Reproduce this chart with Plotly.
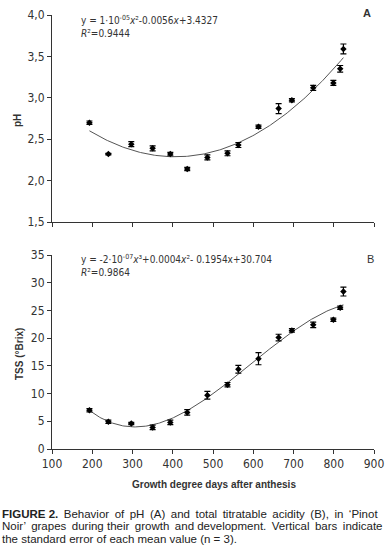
import numpy as np
import plotly.graph_objects as go

# ---- data ----
gdd = [193, 240, 297, 350, 394, 436, 486, 536, 563, 613, 663, 696, 749, 799, 816, 824]
ph = [2.70, 2.32, 2.44, 2.39, 2.32, 2.14, 2.28, 2.33, 2.43, 2.65, 2.87, 2.97, 3.12, 3.18, 3.35, 3.59]
ph_err = [0.02, 0.01, 0.03, 0.03, 0.02, 0.02, 0.03, 0.03, 0.03, 0.02, 0.06, 0.02, 0.03, 0.03, 0.04, 0.06]
tss = [7.0, 4.9, 4.6, 3.9, 4.8, 6.6, 9.7, 11.6, 14.4, 16.3, 20.1, 21.4, 22.4, 23.3, 25.5, 28.4]
tss_err = [0.3, 0.3, 0.2, 0.4, 0.4, 0.5, 0.7, 0.4, 0.7, 1.1, 0.6, 0.3, 0.5, 0.3, 0.3, 0.8]

x_ticks = [100, 200, 300, 400, 500, 600, 700, 800, 900]
ph_ticks = [1.5, 2.0, 2.5, 3.0, 3.5, 4.0]
tss_ticks = [0, 5, 10, 15, 20, 25, 30, 35]

eq_ph = "y = 1·10<sup>-05</sup><i>x</i>²-0.0056<i>x</i>+3.4327"
r2_ph = "<i>R</i>²=0.9444"
eq_tss = "y = -2·10<sup>-07</sup><i>x</i>³+0.0004<i>x</i>²- 0.1954x+30.704"
r2_tss = "<i>R</i>²=0.9864"
caption_words = [
    ["<b>FIGURE</b>", "<b>2.</b>", "Behavior", "of", "pH", "(A)", "and", "total", "titratable",
     "acidity", "(B),", "in", "‘Pinot"],
    ["Noir’", "grapes", "during", "their", "growth", "and", "development.", "Vertical",
     "bars", "indicate"],
    ["the", "standard", "error", "of", "each", "mean", "value", "(n", "=", "3)."],
]
# gaps that get an extra thin space to imitate the justified caption
caption_thin = [
    [0, 1, 1, 1, 1, 1, 1, 1, 1, 1, 1, 1],
    [1, 1, 0, 1, 1, 0, 1, 1, 1],
    [0, 0, 0, 0, 0, 0, 0, 0, 0],
]

# ---- trend lines fitted to the data ----
gx = np.array(gdd, dtype=float)
xs = np.linspace(gx.min(), gx.max(), 200)
ph_fit = np.polyval(np.polyfit(gx, ph, 2), xs)
tss_fit = np.polyval(np.polyfit(gx, tss, 3), xs)

W, H = 385, 554
def px(x):
    return x / W
def py(y):
    return 1 - y / H

FONT = "DejaVu Sans Condensed, sans-serif"
BOLD = "Liberation Sans, Arial, sans-serif"
CAP = "Liberation Sans, Arial, sans-serif"
AX = "#333333"

fig = go.Figure()

# top panel (pH)
fig.add_trace(go.Scatter(x=xs, y=ph_fit, mode="lines", line=dict(color="#555555", width=1),
                         xaxis="x2", yaxis="y2", hoverinfo="skip"))
fig.add_trace(go.Scatter(x=gdd, y=ph, mode="markers",
                         marker=dict(symbol="diamond", size=5, color="black"),
                         error_y=dict(type="data", array=ph_err, color="black", thickness=1.2, width=3),
                         xaxis="x2", yaxis="y2"))
# bottom panel (TSS)
fig.add_trace(go.Scatter(x=xs, y=tss_fit, mode="lines", line=dict(color="#555555", width=1),
                         xaxis="x", yaxis="y", hoverinfo="skip"))
fig.add_trace(go.Scatter(x=gdd, y=tss, mode="markers",
                         marker=dict(symbol="diamond", size=5, color="black"),
                         error_y=dict(type="data", array=tss_err, color="black", thickness=1.2, width=3),
                         xaxis="x", yaxis="y"))

xcommon = dict(range=[100, 900], tickvals=x_ticks, showline=True, linecolor=AX, linewidth=1,
               ticks="outside", ticklen=4, tickcolor=AX, showgrid=False, zeroline=False,
               domain=[px(52), px(374)], automargin=False)
ycommon = dict(showline=True, linecolor=AX, linewidth=1, ticks="outside", ticklen=4,
               tickcolor=AX, showgrid=False, zeroline=False, automargin=False,
               tickfont=dict(size=12, color="#333333"))

fig.update_layout(
    width=W, height=H, margin=dict(l=0, r=0, t=0, b=0, autoexpand=False),
    paper_bgcolor="white", plot_bgcolor="white", showlegend=False,
    separators=",.",
    font=dict(family=FONT, size=12, color="#333333"),
    xaxis=dict(**xcommon, anchor="y", tickfont=dict(size=12, color="#333333")),
    yaxis=dict(**ycommon, range=[0, 35], tickvals=tss_ticks, anchor="x",
               domain=[py(449), py(255)]),
    xaxis2=dict(**xcommon, anchor="y2", showticklabels=False),
    yaxis2=dict(**ycommon, range=[1.5, 4.0], tickvals=ph_ticks, tickformat=".1f", anchor="x2",
                domain=[py(222), py(15)]),
)

ann = []
def A(text, x, y, size=12, xanchor="left", yanchor="middle", angle=0, color="#333333", font=FONT):
    ann.append(dict(text=text, x=px(x), y=py(y), xref="paper", yref="paper", showarrow=False,
                    xanchor=xanchor, yanchor=yanchor, textangle=angle,
                    font=dict(family=font, size=size, color=color)))

A(eq_ph, 79, 20, size=10)
A(r2_ph, 79, 34, size=10)
A("<b>A</b>", 367, 13, size=11, xanchor="center", font=BOLD)
A(eq_tss, 79, 259, size=10)
A(r2_tss, 79, 272, size=10)
A("B", 370, 259, size=11, xanchor="center", font=BOLD)
A("<b>pH</b>", 17, 121, size=10, xanchor="center", angle=-90, font=BOLD)
A("<b>TSS (°Brix)</b>", 19, 354, size=10, xanchor="center", angle=-90, font=BOLD)
A("<b>Growth degree days after anthesis</b>", 214, 484, size=10, xanchor="center", font=BOLD)
for i, words in enumerate(caption_words):
    txt = words[0]
    for w, t in zip(words[1:], caption_thin[i]):
        txt += " " + ("\u2009" if t else "") + w
    A(txt, 0, 513.5 + i * 12.5, size=11.5, color="#222222", font=CAP)

fig.update_layout(annotations=ann)
fig.write_html("out.html", config={"displayModeBar": False},
               post_script="document.body.style.margin='0';document.body.style.overflow='hidden';")
